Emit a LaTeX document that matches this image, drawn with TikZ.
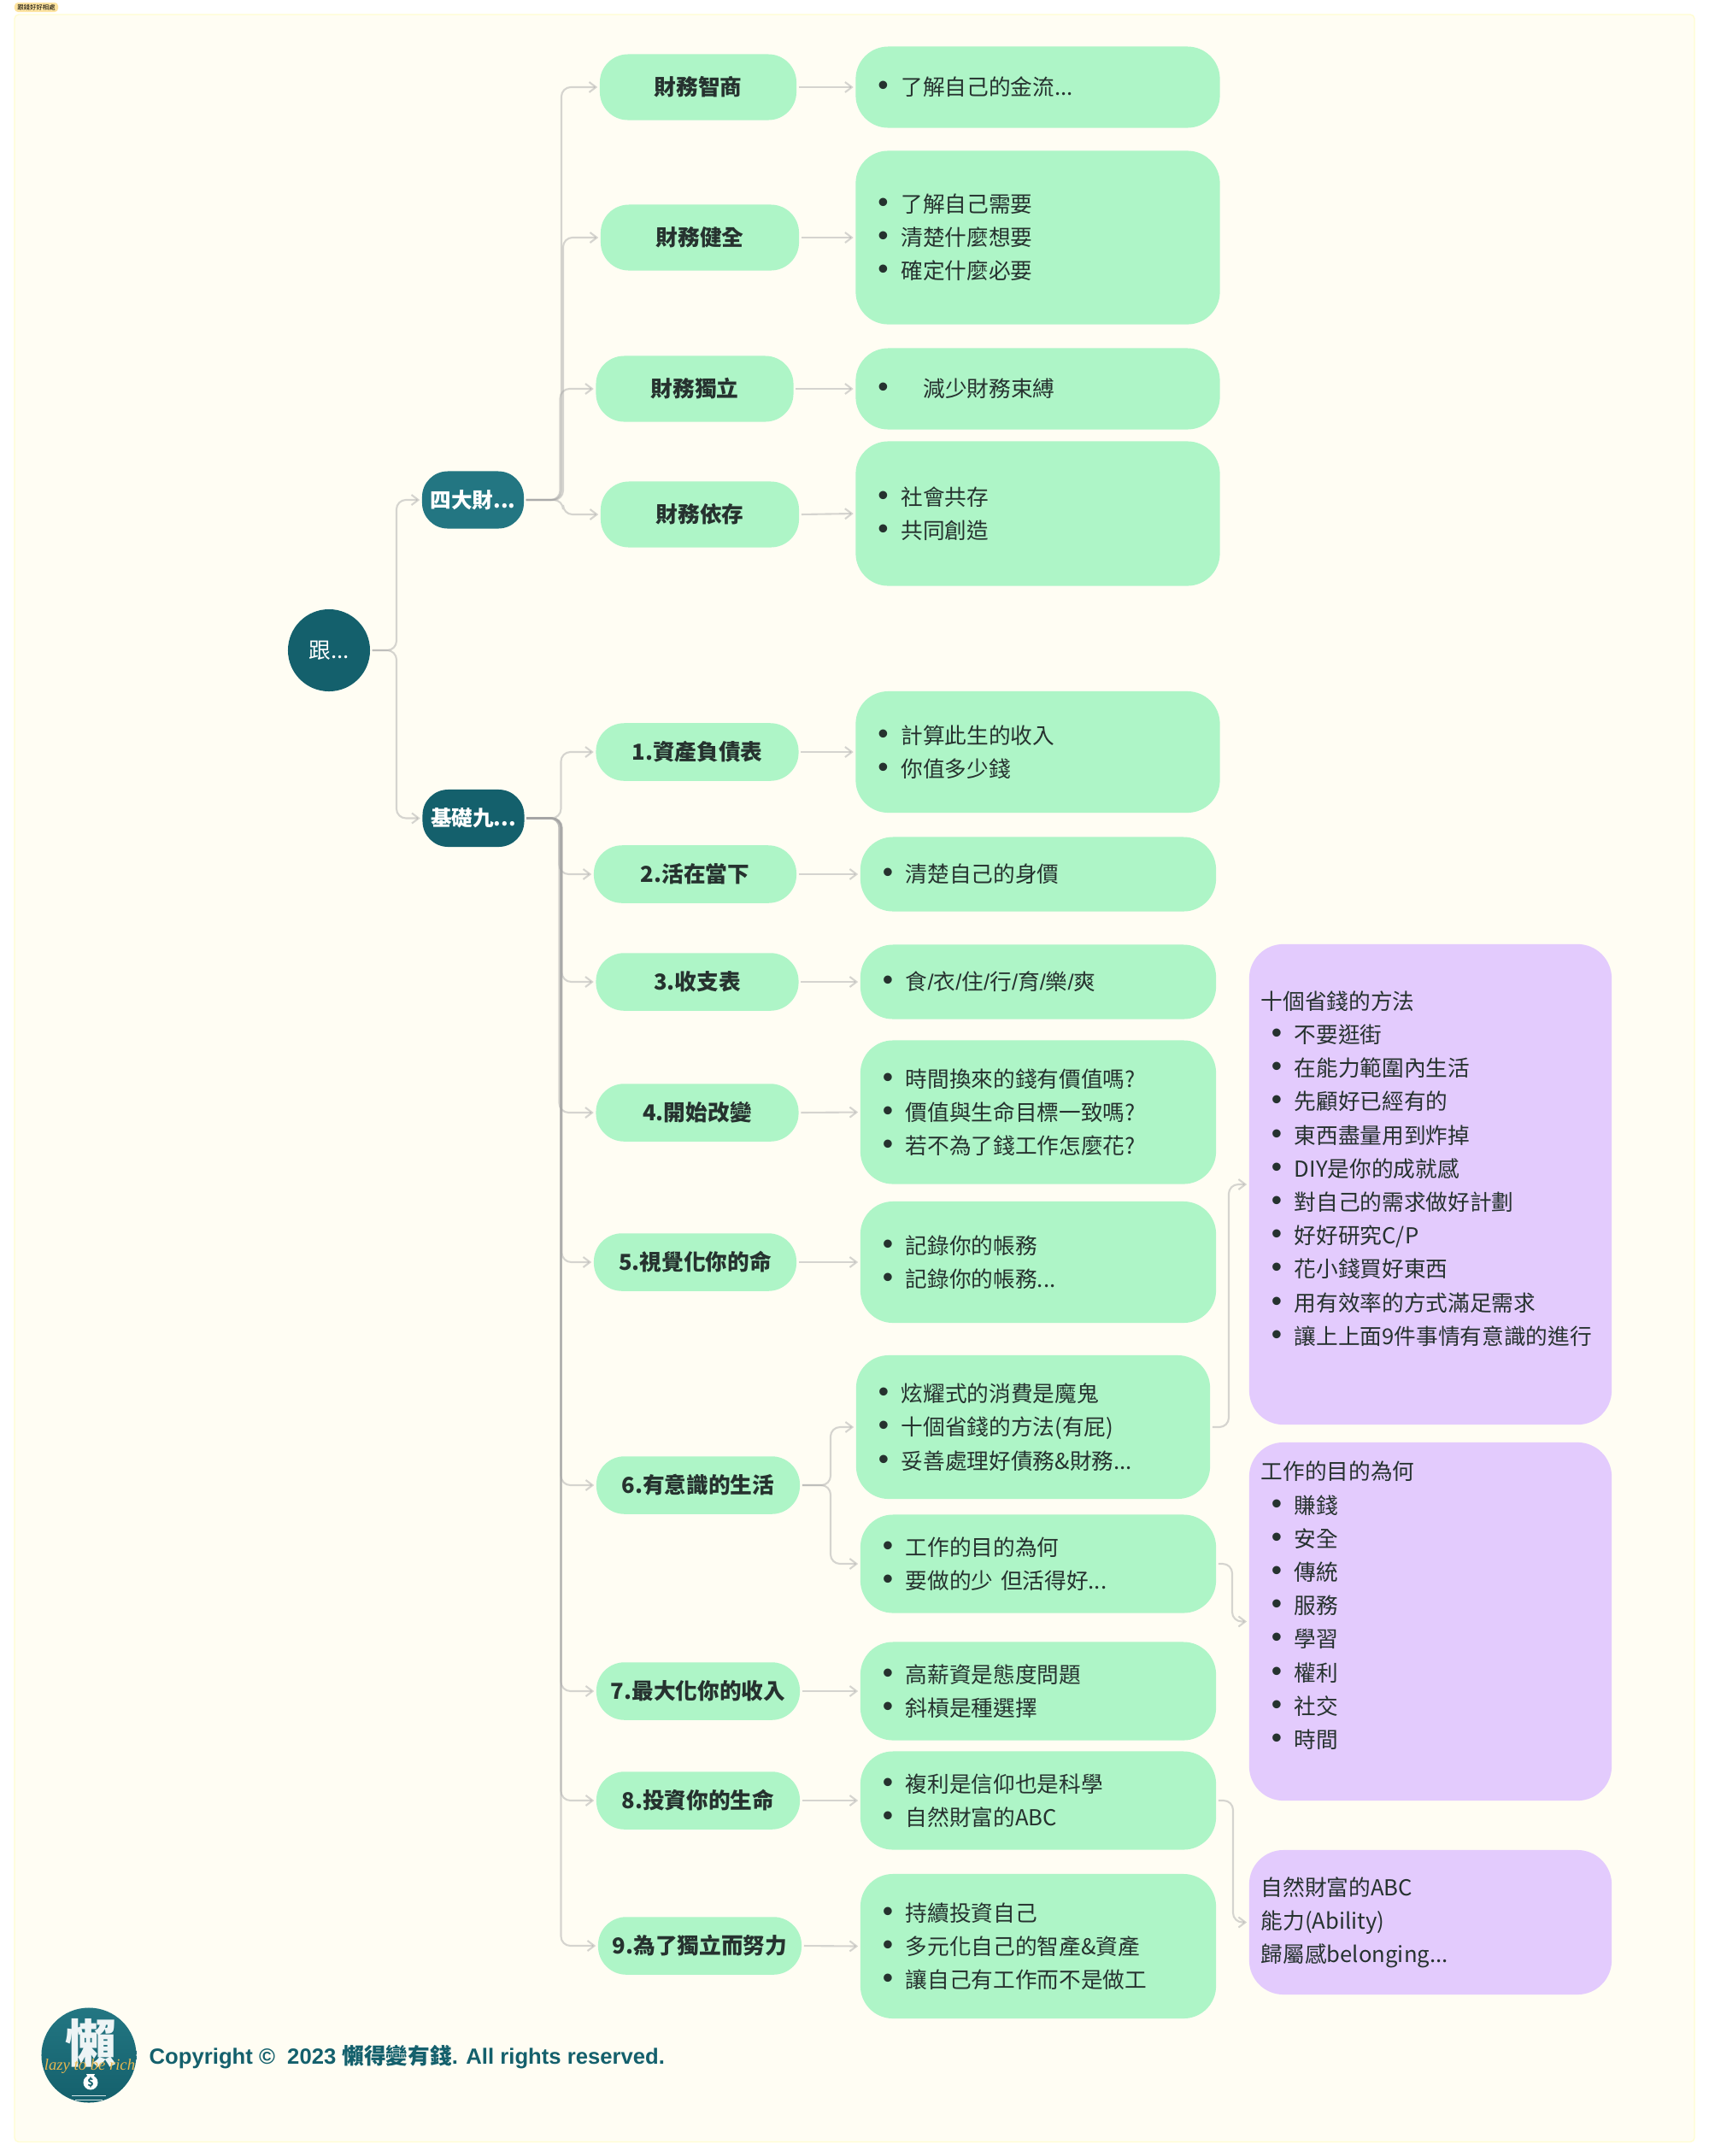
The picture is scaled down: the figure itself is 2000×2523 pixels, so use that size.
\documentclass[tikz,border=0pt]{standalone}
\usepackage{fontspec}
\setmainfont{Noto Sans CJK TC}
\newfontfamily\logofont{Liberation Serif}
\newfontfamily\latinfont{Liberation Sans}
\usetikzlibrary{arrows.meta,calc}

\definecolor{paper}{HTML}{FFFDF3}
\definecolor{mint}{HTML}{AEF5C7}
\definecolor{lilac}{HTML}{E3CBFD}
\definecolor{deepteal}{HTML}{14606C}
\definecolor{midteal}{HTML}{237682}
\definecolor{ink}{HTML}{26322F}
\definecolor{wire}{HTML}{A4A4A4}
\definecolor{gold}{HTML}{E9B850}

\newcommand{\bodyfont}{\fontsize{7.3}{11.15}\selectfont}
\newcommand{\bul}[1]{\makebox[.39cm][l]{\hspace{.12cm}{\latinfont\fontsize{10}{9}\selectfont\textbullet}}#1}
\newcommand{\slashmark}{{\latinfont/}}

\tikzset{
  wirebase/.style={draw=wire,draw opacity=.45,line width=.6pt,rounded corners=.11cm,shorten <=.02cm},
  conn/.style={wirebase,->,shorten >=.02cm},
  topic/.style={fill=mint,text=ink,rounded corners=.33cm,inner sep=0pt,minimum height=.675cm,
    font=\bodyfont\bfseries},
  head/.style={text=white,rounded corners=.3cm,inner sep=0pt,minimum width=1.19cm,minimum height=.67cm,
    font=\fontsize{7}{10}\selectfont\bfseries},
  note/.style 2 args={fill=mint,text=ink,rounded corners=.38cm,align=left,inner xsep=.14cm,inner ysep=0pt,
    text width=#1-.28cm,minimum height=#2,font=\bodyfont},
  side/.style 2 args={note={#1}{#2},fill=lilac,rounded corners=.4cm},
}

\begin{document}
\begin{tikzpicture}[x=.01cm,y=-.01cm,>={Straight Barb[length=.8mm,width=1.2mm]}]
\useasboundingbox (0,0) rectangle (2000,2523);

% Backdrop and tag
\fill[white] (0,0) rectangle (2000,2523);
\draw[fill=paper,draw=yellow!18,line width=.4pt,rounded corners=.05cm] (17,17) rectangle (1983,2506.5);
\node[fill=yellow!45!orange!35,rounded corners=.04cm,inner sep=0pt,minimum width=.51cm,minimum height=.11cm,
  font=\fontsize{2.1}{3}\selectfont] (tag) at (42.5,8.5) {跟錢好好相處};

% Root and heads
\node[circle,fill=deepteal,text=white,inner sep=0pt,minimum size=.96cm,font=\bodyfont] (root) at (385,761) {跟...};
\node[head,fill=midteal] (fourbig) at (553.5,585) {四大財...};
\node[head,fill=deepteal] (ninebase) at (554,957.5) {基礎九...};

% Four kinds
\node[topic,minimum width=2.30cm,minimum height=.77cm] (fin1) at (817,102) {財務智商};
\node[topic,minimum width=2.32cm,minimum height=.77cm] (fin2) at (819,278) {財務健全};
\node[topic,minimum width=2.31cm,minimum height=.77cm] (fin3) at (813,455) {財務獨立};
\node[topic,minimum width=2.32cm,minimum height=.77cm] (fin4) at (819,602) {財務依存};

\node[note={4.26cm}{.95cm}] (fnote1) at (1214.5,102) {\bul{了解自己的金流...}};
\node[note={4.26cm}{2.03cm}] (fnote2) at (1214.5,278) {\bul{了解自己需要}\\\bul{清楚什麼想要}\\\bul{確定什麼必要}};
\node[note={4.26cm}{.95cm}] (fnote3) at (1214.5,455) {\bul{\hspace{.26cm}減少財務束縛}};
\node[note={4.26cm}{1.69cm}] (fnote4) at (1214.5,601) {\bul{社會共存}\\\bul{共同創造}};

% Nine basics
\node[topic,minimum width=2.37cm] (base1) at (816,880) {1.資產負債表};
\node[topic,minimum width=2.37cm] (base2) at (813.5,1023) {2.活在當下};
\node[topic,minimum width=2.37cm] (base3) at (816,1149) {3.收支表};
\node[topic,minimum width=2.37cm] (base4) at (816,1302) {4.開始改變};
\node[topic,minimum width=2.37cm] (base5) at (813.5,1477) {5.視覺化你的命};
\node[topic,minimum width=2.38cm] (base6) at (817,1738) {6.有意識的生活};
\node[topic,minimum width=2.38cm] (base7) at (817,1979) {7.最大化你的收入};
\node[topic,minimum width=2.38cm] (base8) at (817,2107) {8.投資你的生命};
\node[topic,minimum width=2.38cm] (base9) at (819,2277) {9.為了獨立而努力};

\node[note={4.26cm}{1.42cm}] (bnote1) at (1214.5,880) {\bul{計算此生的收入}\\\bul{你值多少錢}};
\node[note={4.16cm}{.87cm}] (bnote2) at (1215,1023) {\bul{清楚自己的身價}};
\node[note={4.16cm}{.87cm}] (bnote3) at (1215,1149) {\bul{食\slashmark 衣\slashmark 住\slashmark 行\slashmark 育\slashmark 樂\slashmark 爽}};
\node[note={4.16cm}{1.68cm}] (bnote4) at (1215,1301.5) {\bul{時間換來的錢有價值嗎?}\\\bul{價值與生命目標一致嗎?}\\\bul{若不為了錢工作怎麼花?}};
\node[note={4.16cm}{1.42cm}] (bnote5) at (1215,1477) {\bul{記錄你的帳務}\\\bul{記錄你的帳務...}};
\node[note={4.14cm}{1.68cm}] (bnote6a) at (1209,1670) {\bul{炫耀式的消費是魔鬼}\\\bul{十個省錢的方法(有屁)}\\\bul{妥善處理好債務\&財務...}};
\node[note={4.16cm}{1.15cm}] (bnote6b) at (1215,1830) {\bul{工作的目的為何}\\\bul{要做的少 但活得好...}};
\node[note={4.16cm}{1.15cm}] (bnote7) at (1215,1979) {\bul{高薪資是態度問題}\\\bul{斜槓是種選擇}};
\node[note={4.16cm}{1.15cm}] (bnote8) at (1215,2107) {\bul{複利是信仰也是科學}\\\bul{自然財富的ABC}};
\node[note={4.16cm}{1.69cm}] (bnote9) at (1215,2277.5) {\bul{持續投資自己}\\\bul{多元化自己的智產\&資產}\\\bul{讓自己有工作而不是做工}};

% Side lists
\node[side={4.24cm}{5.62cm}] (save) at (1674,1386) {十個省錢的方法\\\bul{不要逛街}\\\bul{在能力範圍內生活}\\\bul{先顧好已經有的}\\\bul{東西盡量用到炸掉}\\\bul{DIY是你的成就感}\\\bul{對自己的需求做好計劃}\\\bul{好好研究C/P}\\\bul{花小錢買好東西}\\\bul{用有效率的方式滿足需求}\\\bul{讓上上面9件事情有意識的進行}\\~};
\node[side={4.24cm}{4.19cm}] (work) at (1674,1897.5) {工作的目的為何\\\bul{賺錢}\\\bul{安全}\\\bul{傳統}\\\bul{服務}\\\bul{學習}\\\bul{權利}\\\bul{社交}\\\bul{時間}\\~};
\node[side={4.24cm}{1.69cm}] (abc) at (1674,2249.5) {自然財富的ABC\\能力(Ability)\\歸屬感belonging...};

% Stems
\coordinate (rootstem) at (464,761);
\coordinate (fourstem) at (657,585);
\coordinate (fourstemb) at (659,585);
\coordinate (fourstemc) at (655.5,585);
\coordinate (ninestem) at (656.5,957.5);
\coordinate (ninestemb) at (654.5,957.5);
\coordinate (ninestemc) at (657.5,957.5);
\coordinate (sixstem) at (972,1738);
\coordinate (savestem) at (1438,1670);
\coordinate (workstem) at (1442,1830);
\coordinate (abcstem) at (1443,2107);

% Connectors
\draw[conn] (root.east) -- (rootstem) |- (fourbig.west);
\draw[conn] (root.east) -- (rootstem) |- (ninebase.west);
\draw[conn] (fourbig.east) -- (fourstem) |- (fin1.west);
\draw[conn] (fourbig.east) -- (fourstemb) |- (fin2.west);
\draw[conn] (fourbig.east) -- (fourstemc) |- (fin3.west);
\draw[conn] (fourbig.east) -- (fourstemb) |- (fin4.west);
\foreach \n/\s in {1/ninestem,2/ninestemb,3/ninestemc,4/ninestemb,5/ninestemc,6/ninestem,7/ninestem,8/ninestem,9/ninestem}
  \draw[conn] (ninebase.east) -- (\s) |- (base\n.west);

\foreach \a/\b in {fin1/fnote1,fin2/fnote2,fin3/fnote3,fin4/fnote4,base1/bnote1,base2/bnote2,base3/bnote3,base4/bnote4,base5/bnote5,base7/bnote7,base8/bnote8,base9/bnote9}
  \draw[conn] (\a.east) -- (\b.west);

\draw[conn] (base6.east) -- (sixstem) |- (bnote6a.west);
\draw[conn] (base6.east) -- (sixstem) |- (bnote6b.west);
\draw[conn] (bnote6a.east) -- (savestem) |- (save.west);
\draw[conn] (bnote6b.east) -- (workstem) |- (work.west);
\draw[conn] (bnote8.east) -- (abcstem) |- (abc.west);

% Logo and footer
\node[circle,top color=midteal,bottom color=deepteal,inner sep=0pt,minimum size=1.11cm] (logo) at (104,2405) {};
\node[text=white!92!midteal,inner sep=0pt,font=\fontsize{17}{17}\selectfont\bfseries] (logochar) at (106,2391) {懶};
\node[text=gold,inner sep=0pt,font=\logofont\fontsize{5.3}{7}\selectfont\itshape] (logoname) at (105,2418) {lazy to be rich};
\fill[white] (101,2427) -- (111,2427) -- (108,2433) -- (104,2433) -- cycle;
\node[circle,fill=white,text=deepteal,inner sep=0pt,minimum size=.17cm,font=\fontsize{3.5}{4}\selectfont\bfseries] (logobag) at (106,2437) {\$};
\draw[white!80!midteal,line width=.3pt] (84,2452) -- (124,2452);
\draw[white!80!midteal,line width=.3pt] (88,2457) -- (120,2457);
\node[anchor=west,text=deepteal,inner sep=0pt,font=\bodyfont\bfseries] (copyright) at (174,2407) {{\latinfont Copyright ©\ \ 2023 }懶得變有錢{\latinfont . All rights reserved.}};
\end{tikzpicture}
\end{document}
